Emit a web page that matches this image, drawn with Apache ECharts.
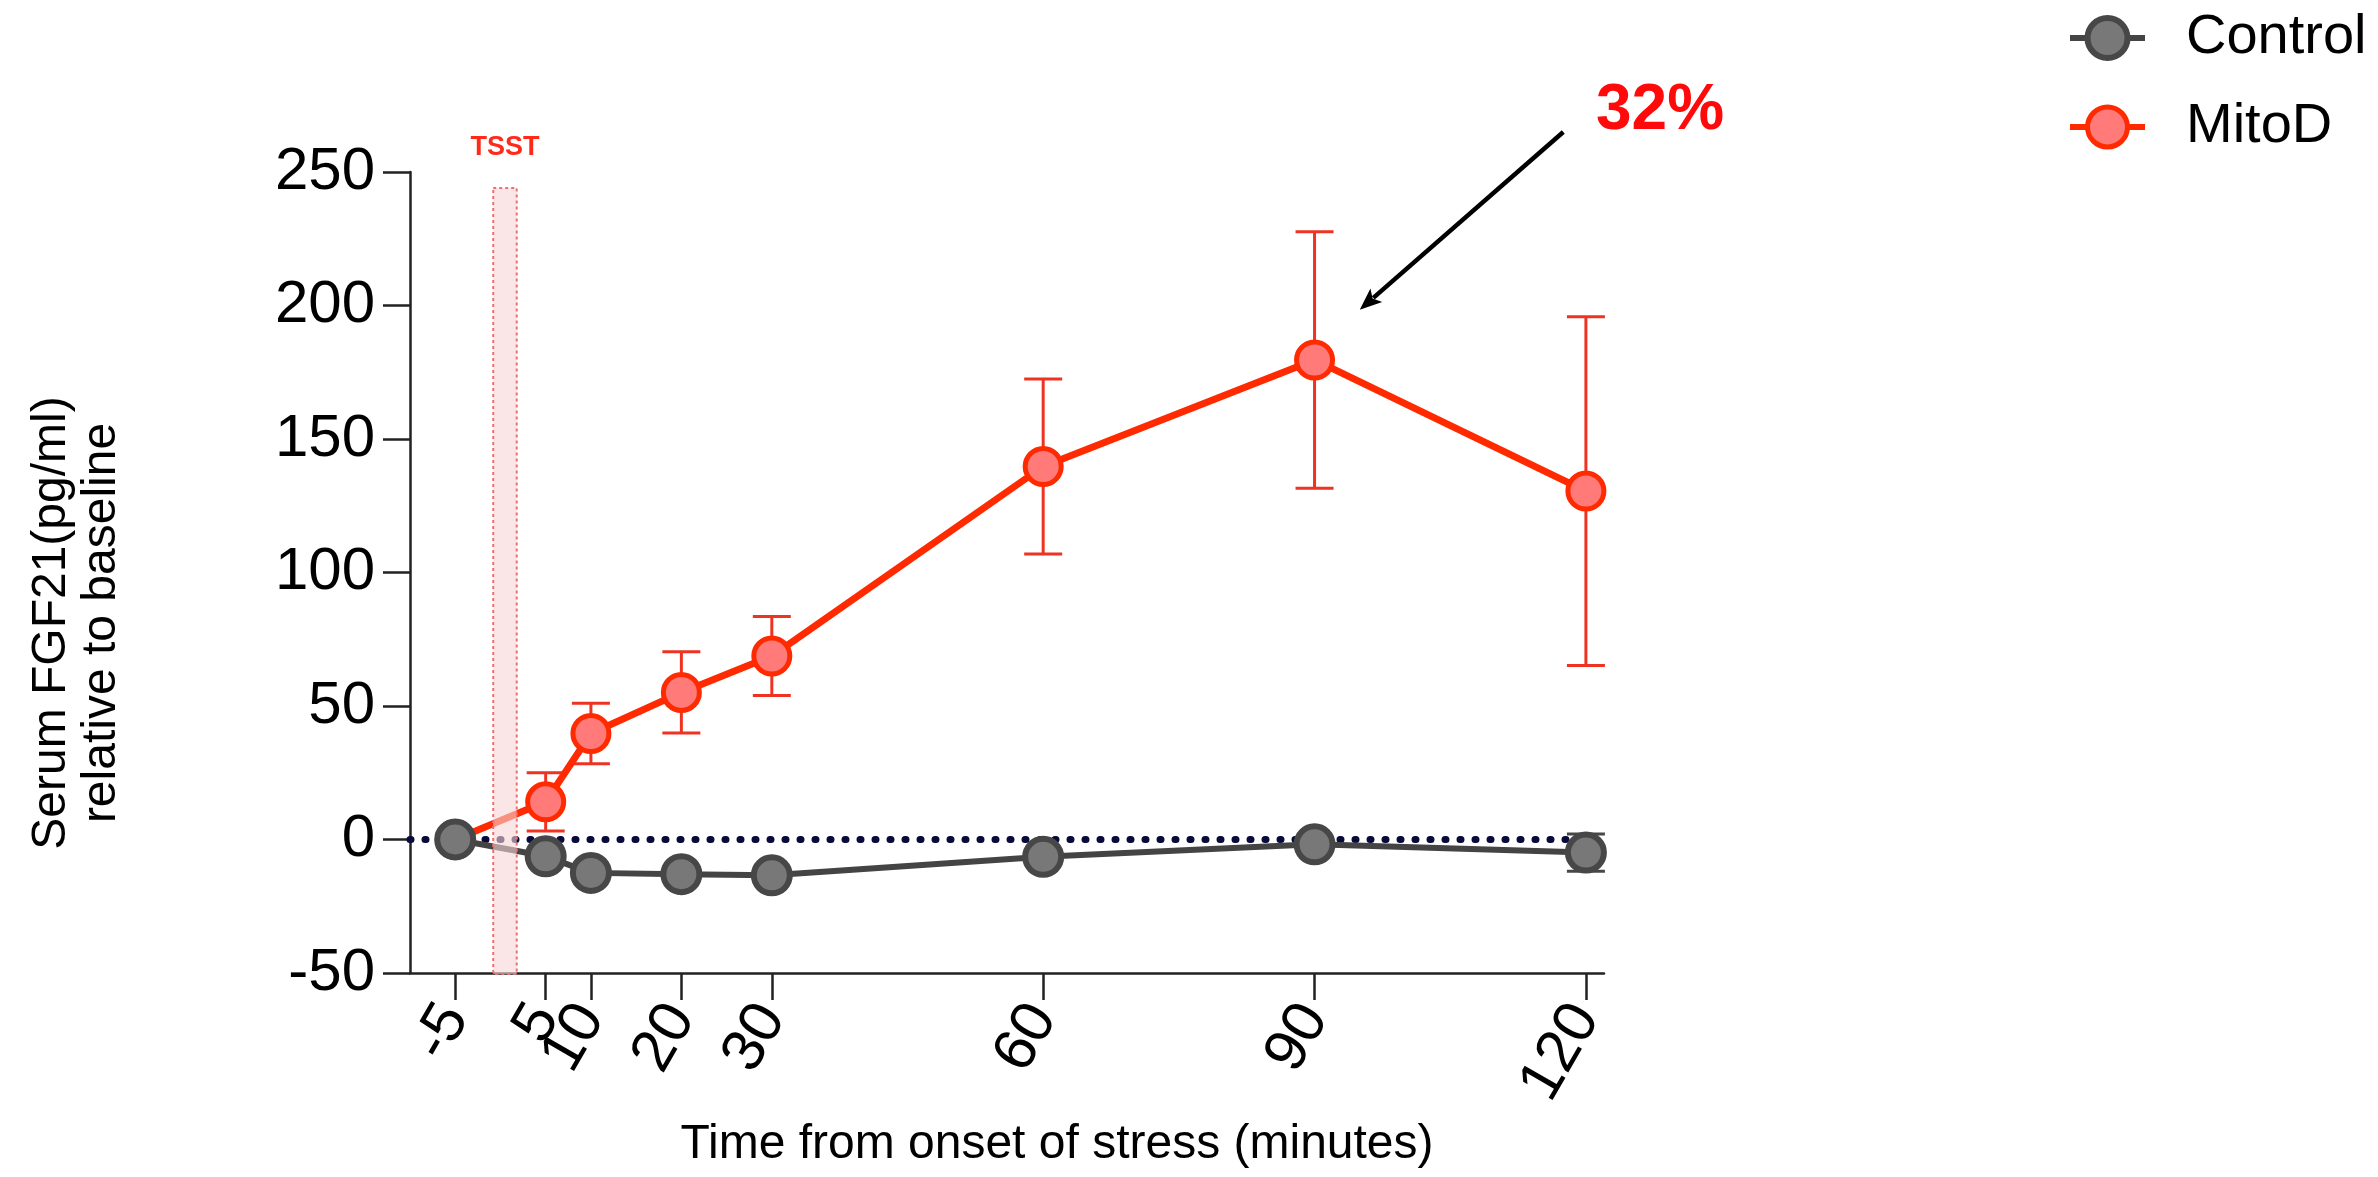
<!DOCTYPE html>
<html>
<head>
<meta charset="utf-8">
<script src="https://cdn.jsdelivr.net/npm/echarts@6/dist/echarts.min.js"></script>
<style>
  html, body { margin: 0; padding: 0; background: #fff; }
  #chart { width: 2378px; height: 1177px; }
</style>
</head>
<body>
<div id="chart"></div>
<script>
// ---- data ----
const times = [-5, 5, 10, 20, 30, 60, 90, 120];
const controlMean = [0, -6.3, -12.5, -13.0, -13.4, -6.5, -1.8, -4.9];
const controlSem = [null, null, null, null, null, null, null, 7.0];
const mitoMean = [0, 14.1, 39.7, 55.1, 68.7, 139.7, 179.6, 130.5];
const mitoSem = [null, 10.9, 11.3, 15.2, 14.8, 32.8, 48.0, 65.3];
const xTickValues = [-5, 5, 10, 20, 30, 60, 90, 120];
const baselineSpan = [-10, 120];
const tsstWindow = [-0.8, 1.8, 244];
const arrowFrom = [117.5, 265];
const arrowTo = [95, 198.4];
const annotationText = '32%';

const FONT = '"Liberation Sans", Arial, sans-serif';
const chart = echarts.init(document.getElementById('chart'), null, { renderer: 'canvas' });

function errData(mean, sem) {
  const out = [];
  times.forEach((t, i) => { if (sem[i] != null) out.push([t, mean[i], sem[i]]); });
  return out;
}
function errRender(color, width, capHalf) {
  return function (params, api) {
    const x = api.value(0), y = api.value(1), e = api.value(2);
    const top = api.coord([x, y + e]);
    const bot = api.coord([x, y - e]);
    const st = { stroke: color, lineWidth: width };
    return {
      type: 'group',
      children: [
        { type: 'line', shape: { x1: top[0], y1: top[1], x2: bot[0], y2: bot[1] }, style: st },
        { type: 'line', shape: { x1: top[0] - capHalf, y1: top[1], x2: top[0] + capHalf, y2: top[1] }, style: st },
        { type: 'line', shape: { x1: bot[0] - capHalf, y1: bot[1], x2: bot[0] + capHalf, y2: bot[1] }, style: st }
      ]
    };
  };
}

const option = {
  backgroundColor: '#ffffff',
  animation: false,
  grid: { left: 410, right: 774, top: 172, bottom: 204, containLabel: false },
  legend: {
    data: [
      { name: 'Control', itemStyle: { borderWidth: 6 }, lineStyle: { width: 6 } },
      { name: 'MitoD', itemStyle: { borderWidth: 5 }, lineStyle: { width: 6 } }
    ],
    orient: 'vertical',
    left: 2062,
    top: 3,
    itemWidth: 75,
    itemHeight: 50,
    itemGap: 29,
    textStyle: { fontFamily: FONT, fontSize: 56, color: '#000', lineHeight: 60, padding: [0, 0, 0, 36] }
  },
  xAxis: {
    type: 'value',
    min: -10,
    max: 122,
    splitLine: { show: false },
    axisLine: { onZero: false, lineStyle: { color: '#222', width: 2.5 } },
    axisTick: { customValues: xTickValues, length: 27, lineStyle: { color: '#222', width: 2.5 } },
    axisLabel: {
      customValues: xTickValues,
      rotate: 60,
      margin: 36,
      fontFamily: FONT,
      fontSize: 60,
      color: '#000'
    }
  },
  yAxis: {
    type: 'value',
    min: -50,
    max: 250,
    interval: 50,
    splitLine: { show: false },
    axisLine: { show: true, onZero: false, lineStyle: { color: '#222', width: 2.5 } },
    axisTick: { show: true, length: 27, lineStyle: { color: '#222', width: 2.5 } },
    axisLabel: { margin: 35, fontFamily: FONT, fontSize: 60, color: '#000' }
  },
  graphic: [
    {
      type: 'text',
      x: 77, y: 623,
      rotation: Math.PI / 2,
      style: {
        text: 'Serum FGF21(pg/ml)\nrelative to baseline',
        font: '48px ' + FONT,
        fill: '#000',
        align: 'center',
        verticalAlign: 'middle',
        lineHeight: 50
      }
    },
    {
      type: 'text',
      x: 1057, y: 1145,
      style: {
        text: 'Time from onset of stress (minutes)',
        font: '48px ' + FONT,
        fill: '#000',
        align: 'center',
        verticalAlign: 'middle'
      }
    },
    {
      type: 'text',
      x: 1660, y: 111,
      style: {
        text: annotationText,
        font: 'bold 64px ' + FONT,
        fill: '#ff0a0a',
        align: 'center',
        verticalAlign: 'middle'
      }
    }
  ],
  series: [
    {
      name: 'baseline',
      type: 'line',
      z: 1,
      silent: true,
      symbol: 'none',
      data: baselineSpan.map(x => [x, 0]),
      lineStyle: { color: '#0a0a3a', width: 7, type: [1, 14], cap: 'round' }
    },
    {
      name: 'MitoD err',
      type: 'custom',
      z: 2,
      data: errData(mitoMean, mitoSem),
      renderItem: errRender('#ee3322', 3, 19)
    },
    {
      name: 'MitoD',
      type: 'line',
      z: 3,
      data: times.map((t, i) => [t, mitoMean[i]]),
      symbol: 'circle',
      symbolSize: 36,
      lineStyle: { color: '#ff2a00', width: 7 },
      itemStyle: { color: '#ff7a78', borderColor: '#ff2a00', borderWidth: 5 }
    },
    {
      name: 'Control err',
      type: 'custom',
      z: 4,
      data: errData(controlMean, controlSem),
      renderItem: errRender('#474747', 3, 19)
    },
    {
      name: 'Control',
      type: 'line',
      z: 5,
      data: times.map((t, i) => [t, controlMean[i]]),
      symbol: 'circle',
      symbolSize: 36,
      lineStyle: { color: '#444444', width: 6 },
      itemStyle: { color: '#787878', borderColor: '#474747', borderWidth: 6 }
    },
    {
      name: 'annotationArrow',
      type: 'custom',
      z: 6,
      silent: true,
      clip: false,
      data: [[arrowFrom[0], arrowFrom[1], arrowTo[0], arrowTo[1]]],
      renderItem: function (params, api) {
        const a = api.coord([api.value(0), api.value(1)]);
        const b = api.coord([api.value(2), api.value(3)]);
        const dx = b[0] - a[0], dy = b[1] - a[1];
        const len = Math.sqrt(dx * dx + dy * dy);
        const ux = dx / len, uy = dy / len;
        const head = 22, hw = 9;
        const bx = b[0] - ux * head, by = b[1] - uy * head;
        return {
          type: 'group',
          children: [
            { type: 'line', shape: { x1: a[0], y1: a[1], x2: bx + ux * 4, y2: by + uy * 4 }, style: { stroke: '#000', lineWidth: 4.5 } },
            { type: 'polygon', shape: { points: [[b[0], b[1]], [bx - uy * hw, by + ux * hw], [bx + ux * 5, by + uy * 5], [bx + uy * hw, by - ux * hw]] }, style: { fill: '#000' } }
          ]
        };
      }
    },
    {
      name: 'TSST',
      type: 'custom',
      z: 10,
      silent: true,
      data: [tsstWindow],
      renderItem: function (params, api) {
        const p1 = api.coord([api.value(0), api.value(2)]);
        const p2 = api.coord([api.value(1), -50]);
        return {
          type: 'group',
          children: [
            {
              type: 'rect',
              shape: { x: p1[0], y: p1[1], width: p2[0] - p1[0], height: p2[1] - p1[1] + 1 },
              style: { fill: 'rgba(246,214,214,0.6)', stroke: '#ee7070', lineWidth: 2, lineDash: [3, 3] }
            },
            {
              type: 'text',
              x: (p1[0] + p2[0]) / 2,
              y: p1[1] - 40,
              style: { text: 'TSST', font: 'bold 27px ' + FONT, fill: '#ff2a1a', align: 'center', verticalAlign: 'middle' }
            }
          ]
        };
      }
    }
  ]
};
chart.setOption(option);
</script>
</body>
</html>
